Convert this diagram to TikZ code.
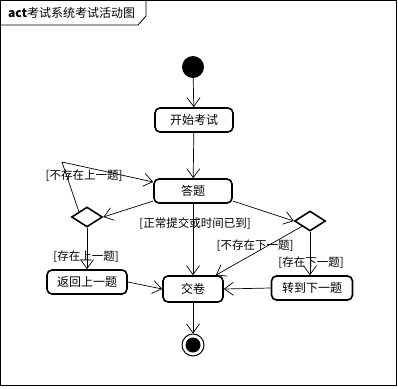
\documentclass[tikz,border=0pt]{standalone}
\usepackage{fontspec}
\setmainfont{Noto Sans CJK SC}
\usepackage{tikz}
\usetikzlibrary{positioning,shapes.geometric,arrows.meta}

\tikzset{
  act/.style={draw,rounded corners=5pt,line width=1.6pt,minimum width=78pt,minimum height=24pt,inner sep=2pt,font=\fontsize{12}{12}\selectfont},
  decide/.style={diamond,draw,line width=1.6pt,minimum width=31pt,minimum height=20pt,inner sep=0pt},
  guard/.style={inner sep=0pt,font=\fontsize{11.5}{12}\selectfont},
  flow/.style={-{Straight Barb[length=9pt,width=13pt]},line width=0.7pt}
}

\begin{document}
\begin{tikzpicture}[x=1pt,y=-1pt]
			\useasboundingbox (0,0) rectangle (398,388);
			
			% frame and title tab
			\draw[line width=0.8pt] (0.5,0.5) rectangle (396,385);
			\draw[line width=0.8pt] (0.5,25) -- (138,25) -- (146,16) -- (146,0.5);
			\node[anchor=west,inner sep=0pt,font=\fontsize{12}{12}\selectfont] (title) at (8,13) {\textbf{act}考试系统考试活动图};
			
			\node[circle,fill=black,minimum size=22pt,inner sep=0pt] (start) at (193,67) {};
			\node[act] (begin) at (194,120) {开始考试};
			\node[act] (answer) at (193,191) {答题};
			\node[decide] (ldec) at (87,217) {};
			\node[decide] (rdec) at (310,221) {};
			\node[act,minimum width=80pt] (back) at (87,282) {返回上一题};
			\node[act,minimum width=60pt,minimum height=26pt] (done) at (193,289) {交卷};
			\node[act,minimum width=81pt] (next) at (312,288) {转到下一题};
			\node[circle,draw,line width=1pt,minimum size=22pt,inner sep=0pt] (stop) at (193,345) {};
			\node[circle,fill=black,minimum size=15pt,inner sep=0pt] (stopin) at (193,345) {};
			
			\coordinate (turnl) at (62,162);
			
			\node[guard] (g1) at (84,176) {[不存在上一题]};
			\node[guard] (g2) at (86,257) {[存在上一题]};
			\node[guard] (g3) at (195,224) {[正常提交或时间已到]};
			\node[guard] (g4) at (255,246) {[不存在下一题]};
			\node[guard] (g5) at (311,263) {[存在下一题]};
			
			\draw[flow] (start) -- (begin);
			\draw[flow] (begin) -- (answer);
			\draw[flow] ([yshift=-10pt]answer.west) -- (ldec.east);
			\draw[flow] (ldec.north west) -- (turnl) -- ([yshift=9pt]answer.west);
			\draw[flow] (ldec.south) -- (back.north);
			\draw[flow] (back.east) -- (done.west);
			\draw[flow] (answer.south) -- (done.north);
			\draw[flow] ([yshift=-10pt]answer.east) -- (rdec.west);
			\draw[flow] (rdec.south west) -- ([xshift=-8pt]done.north east);
			\draw[flow] (rdec.south) -- (rdec.south |- next.north);
			\draw[flow] (next.west) -- (done.east);
			\draw[flow] (done.south) -- (stop);
			
		\end{tikzpicture}
\end{document}
